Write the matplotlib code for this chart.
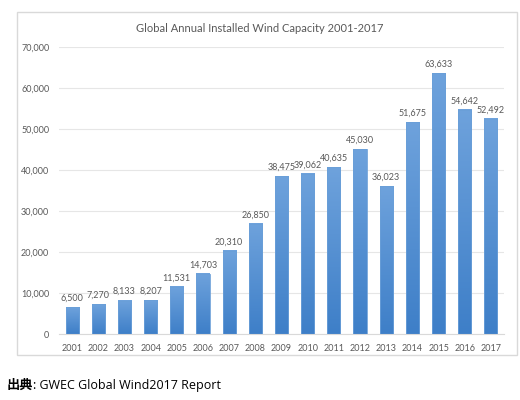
import matplotlib
matplotlib.use('Agg')
import matplotlib.pyplot as plt
from matplotlib.patches import Rectangle
import numpy as np

years = ['2001', '2002', '2003', '2004', '2005', '2006', '2007', '2008', '2009',
         '2010', '2011', '2012', '2013', '2014', '2015', '2016', '2017']
capacity = [6500, 7270, 8133, 8207, 11531, 14703, 20310, 26850, 38475,
            39062, 40635, 45030, 36023, 51675, 63633, 54642, 52492]
yticks = [0, 10000, 20000, 30000, 40000, 50000, 60000, 70000]

plt.rcParams['font.family'] = ['Lato', 'DejaVu Sans']
grey = '#595959'

fig = plt.figure(figsize=(5.2, 4.0), dpi=100)
# outer chart frame
fig.patches.append(Rectangle((17/520, 45/400), 500/520, 343/400, transform=fig.transFigure,
                             fill=False, edgecolor='#d9d9d9', linewidth=1.0))
ax = fig.add_axes([59/520, 66/400, 445/520, 287/400])

x = np.arange(len(years))
w = 0.5
grad = np.linspace(0, 1, 100).reshape(-1, 1)
cmap = matplotlib.colors.LinearSegmentedColormap.from_list('b', ['#3e7fc8', '#6ea2dc'])
for xi, v in zip(x, capacity):
    ax.imshow(grad, extent=[xi - w/2, xi + w/2, 0, v], origin='lower', cmap=cmap,
              aspect='auto', zorder=2)
    ax.add_patch(Rectangle((xi - w/2, 0), w, v, fill=False, edgecolor='#6a9fd8',
                           linewidth=0.6, zorder=3))
    ax.text(xi, v + 1100, f'{v:,}', ha='center', va='bottom', fontsize=6.5, color=grey)

ax.set_xlim(-0.5, len(years) - 0.5)
ax.set_ylim(0, 70000)
ax.set_xticks(x)
ax.set_xticklabels(years, fontsize=6.5, color=grey)
ax.set_yticks(yticks)
ax.set_yticklabels([f'{t:,}' for t in yticks], fontsize=6.5, color=grey)
ax.tick_params(length=0, pad=7)
ax.grid(axis='y', color='#e6e6e6', linewidth=0.8, zorder=0)
ax.set_axisbelow(True)
for s in ['top', 'right', 'left']:
    ax.spines[s].set_visible(False)
ax.spines['bottom'].set_color('#d9d9d9')

fig.text(0.5, 1 - 28/400, 'Global Annual Installed Wind Capacity 2001-2017',
         ha='center', va='center', fontsize=8, color=grey)
fig.text(7/520, 1 - 385/400, '出典', ha='left', va='center', fontsize=9.5,
         fontweight='bold', family=['Noto Sans CJK JP', 'DejaVu Sans'])
fig.text(33/520, 1 - 385/400, ': GWEC Global Wind2017 Report', ha='left', va='center',
         fontsize=9, family=['Open Sans', 'DejaVu Sans'])

fig.savefig('out.png', dpi=100)
